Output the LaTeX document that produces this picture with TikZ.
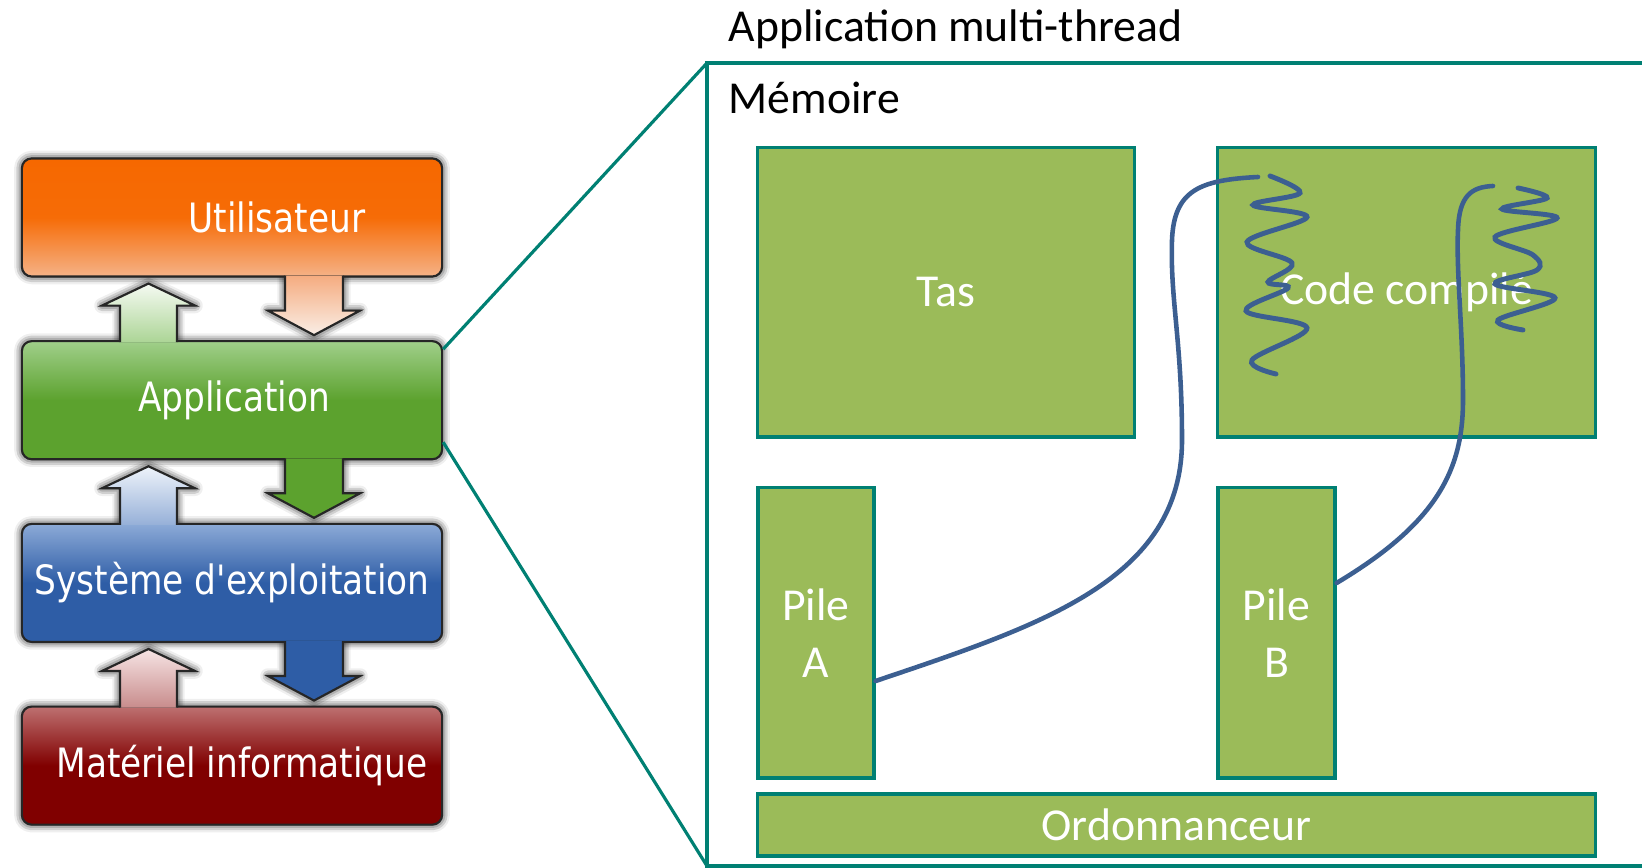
\documentclass[tikz,border=0pt]{standalone}
\usepackage{fontspec}
\usetikzlibrary{positioning, calc, shadows.blur, backgrounds}
\newfontfamily\stackfont[FakeStretch=0.85]{DejaVu Sans}
\newfontfamily\memfont{Carlito}
% stack colours (top / middle / bottom)
\definecolor{utilT}{RGB}{246,104,0}
\definecolor{utilB}{RGB}{245,178,135}
\definecolor{appT}{RGB}{160,207,138}
\definecolor{appM}{RGB}{92,162,46}
\definecolor{sysT}{RGB}{140,170,215}
\definecolor{sysM}{RGB}{46,93,166}
\definecolor{matT}{RGB}{190,112,112}
\definecolor{matM}{RGB}{128,0,0}
% arrow colours
\definecolor{upOneT}{RGB}{245,250,242}
\definecolor{upOneB}{RGB}{172,213,150}
\definecolor{dnOneT}{RGB}{245,172,128}
\definecolor{dnOneB}{RGB}{250,238,230}
\definecolor{upTwoT}{RGB}{238,243,250}
\definecolor{upTwoB}{RGB}{150,176,216}
\definecolor{upThrT}{RGB}{246,228,228}
\definecolor{upThrB}{RGB}{200,140,140}
% right part
\definecolor{memgreen}{RGB}{155,187,89}
\definecolor{memteal}{RGB}{0,128,115}
\definecolor{threadblue}{RGB}{60,95,145}
\tikzset{
  stackshadow/.style={blur shadow={shadow xshift=0pt, shadow yshift=0pt, shadow blur radius=2.2pt, shadow opacity=100}},
  stackbox/.style={draw=black!85, line width=0.6pt, rounded corners=2.8pt, minimum width=4.2cm, minimum height=1.18cm, stackshadow},
  stacktext/.style={text=white, font=\stackfont\fontsize{11.5}{13}\selectfont},
  arrline/.style={draw=black!85, line width=0.6pt, line join=miter},
  membox/.style={draw=memteal, line width=0.9pt, fill=memgreen, text=white, align=center, inner sep=0pt, font=\memfont\fontsize{13}{16.2}\selectfont},
  frame/.style={draw=memteal, line width=0.9pt},
  thread/.style={draw=threadblue, line width=1.3pt, line cap=round}
}
% arrow outlines between two layers of the stack
\newcommand\uparrpath[2]{($(120,0 |- #2.north)+(0,2)$) -- ($(120,0 |- #1.south)+(0,28)$) -- ++(-18,0) -- ($(148.5,0 |- #1.south)+(0,6)$) -- ($(195,0 |- #1.south)+(0,28)$) -- ++(-18,0) -- ($(177,0 |- #2.north)+(0,2)$)}
\newcommand\dnarrpath[2]{($(285,0 |- #1.south)+(0,-2)$) -- ($(285,0 |- #1.south)+(0,33)$) -- ++(-17,0) -- ($(314,0 |- #2.north)+(0,-5)$) -- ($(360,0 |- #1.south)+(0,33)$) -- ++(-17,0) -- ($(343,0 |- #1.south)+(0,-2)$)}
\begin{document}
\begin{tikzpicture}[x=0.01cm, y=-0.01cm]
\useasboundingbox (0,0) rectangle (1642,868);
% ===== left: the layer stack =====
\node[stackbox, top color=utilT, bottom color=utilB, middle color=utilT!95!utilB,
  label={[stacktext, xshift=12.8pt]center:Utilisateur}] (util) at (232,217.5) {};
\node[stackbox, top color=appT, bottom color=appM, middle color=appM,
  below=0.625cm of util, label={[stacktext, xshift=0.6pt]center:Application}] (app) {};
\node[stackbox, top color=sysT, bottom color=sysM, middle color=sysM,
  below=0.625cm of app, label={[stacktext]center:Système d'exploitation}] (sys) {};
\node[stackbox, top color=matT, bottom color=matM, middle color=matM,
  below=0.625cm of sys, label={[stacktext, xshift=2.8pt]center:Matériel informatique}] (mat) {};
% arrow shadows behind everything
\begin{pgfonlayer}{background}
\foreach \hi/\lo in {util/app, app/sys, sys/mat}{
  \path[stackshadow] \uparrpath{\hi}{\lo} -- cycle;
  \path[stackshadow] \dnarrpath{\hi}{\lo} -- cycle;
}
\end{pgfonlayer}
\foreach \hi/\lo/\ua/\ub/\da/\db in {util/app/upOneT/upOneB/dnOneT/dnOneB,
    app/sys/upTwoT/upTwoB/appM/appM, sys/mat/upThrT/upThrB/sysM/sysM}{
  \draw[arrline, top color=\ua, bottom color=\ub] \uparrpath{\hi}{\lo};
  \draw[arrline, top color=\da, bottom color=\db] \dnarrpath{\hi}{\lo};
}
% ===== right: inside the application =====
\coordinate (mtl) at (707,63);
\coordinate (mbl) at (707,866);
\draw[frame] ($(app.east)+(0,-51)$) -- (mtl);
\draw[frame] ($(app.east)+(0,42)$) -- (mbl);
\draw[frame] (1660,63) -- (mtl) -- (mbl) -- (1660,866);
\node[anchor=base west, inner sep=0pt, font=\memfont\fontsize{13}{15}\selectfont] (titre) at (728,42) {Application multi-thread};
\node[anchor=base west, inner sep=0pt, font=\memfont\fontsize{13}{15}\selectfont] (mem) at (728,114) {Mémoire};
\node[membox, minimum width=3.76cm, minimum height=2.89cm] (tas) at (946,292.5) {Tas};
\node[membox, minimum width=3.77cm, minimum height=2.89cm] (code) at (1406.5,292.5) {Code compilé};
\node[membox, minimum width=1.16cm, minimum height=2.9cm] (pileA) at (816,633) {Pile\\A};
\node[membox, minimum width=1.17cm, minimum height=2.9cm] (pileB) at (1276.5,633) {Pile\\B};
\node[membox, minimum width=8.37cm, minimum height=0.62cm] (ordo) at (1176.5,825) {Ordonnanceur};
% threads
\coordinate (endA) at (1258,177);
\coordinate (endB) at (1493,186);
\draw[thread] ($(pileA.east)+(0,48)$) .. controls +(166,-56) and (1182,580) .. (1182,440)
  .. controls (1182,340) and (1170,300) .. (1172,240) .. controls (1174,190) and (1200,180) .. (endA);
\draw[thread] ($(pileB.east)+(0,-50)$) .. controls (1437,523) and (1463,470) .. (1463,400)
  .. controls (1463,330) and (1456,270) .. (1458,230) .. controls (1459,195) and (1472,187) .. (endB);
\draw[thread, line width=1.4pt] plot[smooth, tension=0.6] coordinates {(1270,176) (1300,193) (1253,205) (1307,217) (1247,242) (1292,263) (1268,282) (1288,288) (1246,311) (1307,328) (1252,360) (1276,374)};
\draw[thread, line width=1.4pt] plot[smooth, tension=0.6] coordinates {(1518,188) (1547,198) (1502,209) (1557,218) (1495,237) (1533,255) (1537,270) (1495,284) (1555,298) (1498,320) (1523,330)};
\end{tikzpicture}
\end{document}
